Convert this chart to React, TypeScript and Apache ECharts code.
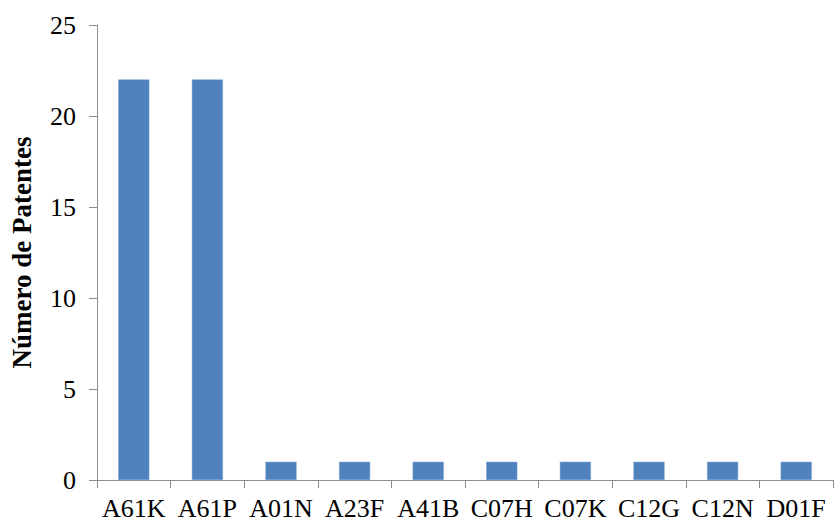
import React, { useEffect, useRef } from "react";
import * as echarts from "echarts";

const categories = ["A61K", "A61P", "A01N", "A23F", "A41B", "C07H", "C07K", "C12G", "C12N", "D01F"];
const patentCounts = [22, 22, 1, 1, 1, 1, 1, 1, 1, 1];
const yTicks = { min: 0, max: 25, interval: 5 };

export default function App() {
  const ref = useRef<HTMLDivElement>(null);
  useEffect(() => {
    if (!ref.current) return;
    const chart = echarts.init(ref.current, undefined, { renderer: "svg" });
    const font = "'Liberation Serif', 'Times New Roman', serif";
    chart.setOption({
      animation: false,
      backgroundColor: "#ffffff",
      grid: { left: 93, right: 2, top: 25, bottom: 42 },
      xAxis: {
        type: "category",
        data: categories,
        axisLine: { lineStyle: { color: "#8c8c8c", width: 1 } },
        axisTick: { show: true, length: 8, alignWithLabel: false, lineStyle: { color: "#8c8c8c" } },
        axisLabel: { color: "#000", fontFamily: font, fontSize: 26, margin: 15, interval: 0 },
      },
      yAxis: {
        type: "value",
        min: yTicks.min,
        max: yTicks.max,
        interval: yTicks.interval,
        name: "Número de Patentes",
        nameLocation: "middle",
        nameGap: 62,
        nameRotate: 90,
        nameTextStyle: { color: "#000", fontFamily: font, fontSize: 27, fontWeight: "bold" },
        axisLine: { show: true, lineStyle: { color: "#8c8c8c", width: 1 } },
        axisTick: { show: true, length: 8, lineStyle: { color: "#8c8c8c" } },
        axisLabel: { color: "#000", fontFamily: font, fontSize: 26, margin: 21 },
        splitLine: { show: false },
      },
      series: [
        {
          type: "bar",
          data: patentCounts,
          barWidth: 31,
          itemStyle: { color: "#4F81BD", borderColor: "#6b97cc", borderWidth: 0.5 },
        },
      ],
    });
    return () => chart.dispose();
  }, []);
  return (
    <div
      ref={ref}
      style={{ position: "fixed", left: 0, top: 0, width: 835, height: 522 }}
    />
  );
}
